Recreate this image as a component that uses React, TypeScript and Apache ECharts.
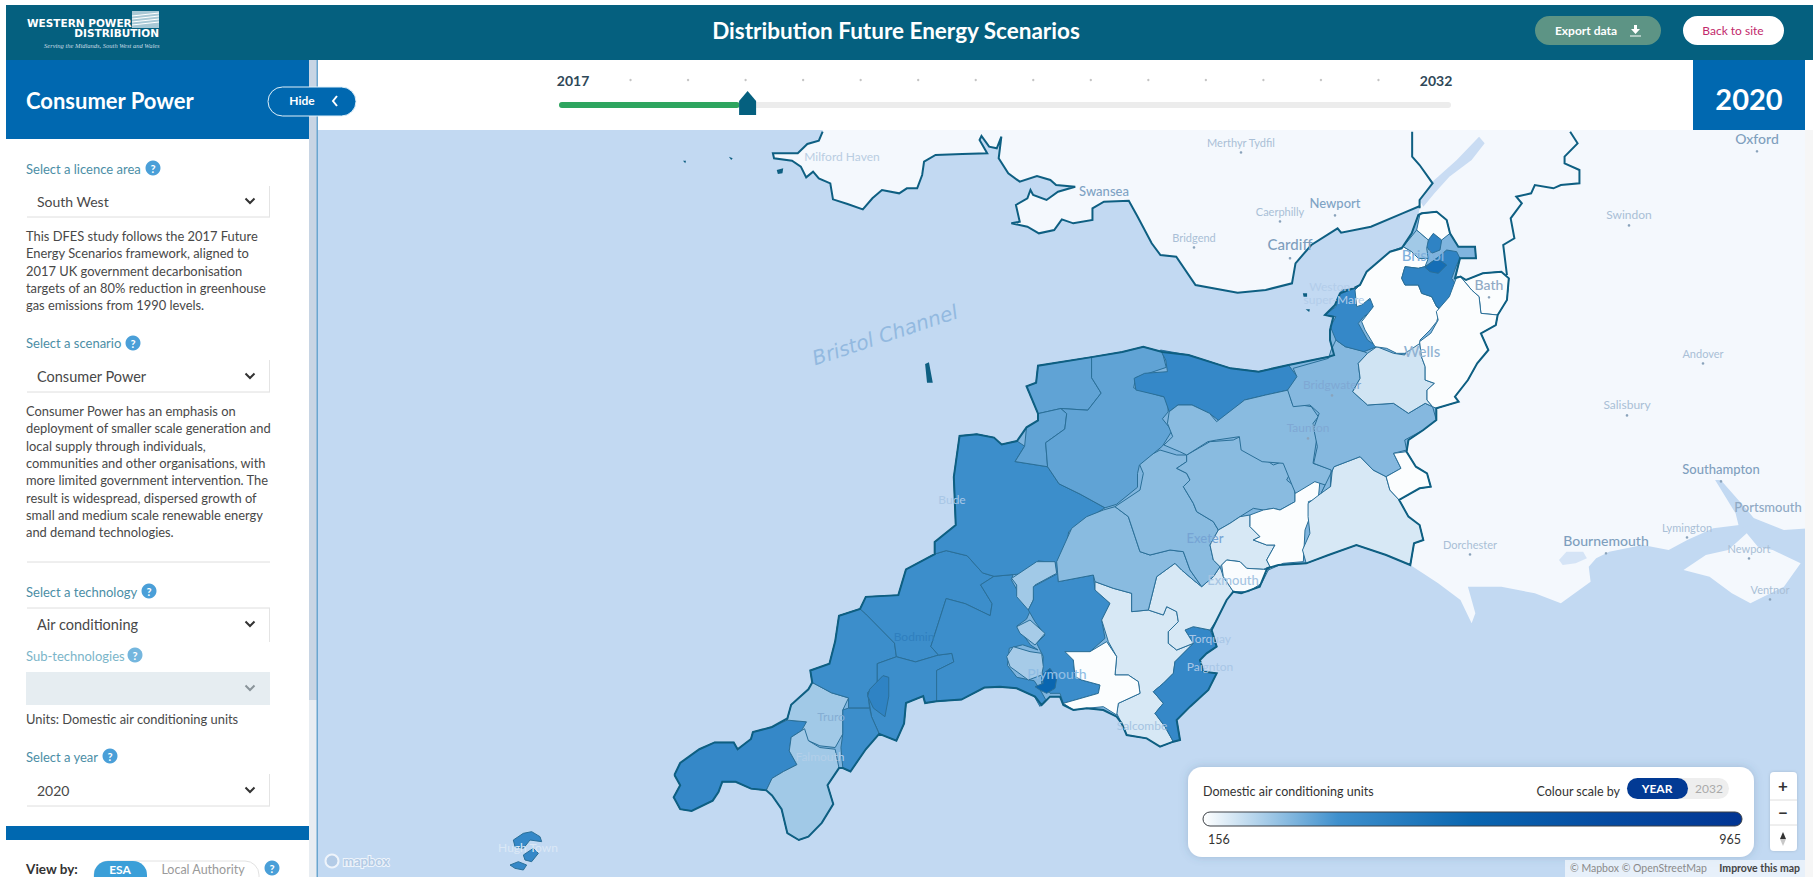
import React, { useEffect, useRef } from "react";
import * as echarts from "echarts";

// ---------- values ----------
const scaleMin = 156;
const scaleMax = 965;
const scaleColours = ["#ffffff", "#3f90cd", "#0a66b0", "#054ba2", "#023593"];
const sliderYears = [2017, 2018, 2019, 2020, 2021, 2022, 2023, 2024, 2025, 2026, 2027, 2028, 2029, 2030, 2031, 2032];
const selectedYear = 2020;

const regionNames = ["Peninsula", "Penwith", "Truro", "Falmouth", "Newquay", "Bodmin", "StAustellEast", "Roseland", "StAustellTown", "Liskeard", "Torridge", "Tavistock", "WestDevon", "TavyVale", "Saltash", "Plymouth", "DartSouth", "Ivybridge", "Torbay", "Teign", "Okehampton", "Exeter", "Tiverton", "EastDevon", "Exmouth", "Honiton", "Axminster", "Ilfracombe", "Barnstaple", "SouthMolton", "WestSomerset", "TauntonWest", "SouthSomerset", "Mendip", "Axbridge", "Bristol", "BristolCentre", "Avonmouth", "Severnside", "NorthSomerset", "Bath", "Frome", "Thornbury", "Yeovil", "Scilly"];
const regionValues = [290, 395, 255, 255, 370, 370, 370, 370, 420, 370, 370, 255, 375, 250, 250, 560, 198, 160, 395, 198, 280, 280, 280, 198, 162, 160, 198, 324, 324, 324, 395, 280, 285, 205, 395, 420, 520, 420, 255, 160, 160, 160, 160, 160, 395];

const placeNames: [string, number, number, number, string][] = [
  ["Merthyr Tydfil", 1241, 142, 11, "#a9bfd6"], ["Milford Haven", 842, 156, 12, "#b9cde2"], ["Swansea", 1104, 191, 13, "#7fa3c4"],
  ["Caerphilly", 1280, 211, 11, "#a9bfd6"], ["Newport", 1335, 203, 13, "#7fa3c4"], ["Bridgend", 1194, 237, 11, "#a9bfd6"],
  ["Cardiff", 1290, 244, 15, "#7f9fbe"], ["Weston-", 1332, 286, 12, "#b3cdea"], ["super-Mare", 1334, 299, 12, "#b3cdea"],
  ["Bridgwater", 1332, 384, 12, "#7fa8d4"], ["Taunton", 1308, 427, 12, "#7fa8d4"], ["Wells", 1422, 351, 15, "#8fb2d2"],
  ["Bath", 1489, 284, 14, "#8fa9c4"], ["Bristol", 1423, 255, 15, "#7fb0dc"], ["Exeter", 1205, 538, 13, "#76a4d4"],
  ["Exmouth", 1233, 580, 13, "#a5c4e2"], ["Torquay", 1210, 638, 12, "#a8c6e6"], ["Paignton", 1210, 666, 12, "#a8c6e6"],
  ["Salcombe", 1142, 725, 12, "#a5c4e2"], ["Plymouth", 1057, 673, 14, "#8fbde4"], ["Truro", 831, 716, 12, "#85aed4"],
  ["Falmouth", 820, 756, 12, "#b3cfe9"], ["Bodmin", 914, 636, 12, "#2f7fbe"], ["Bude", 952, 499, 12, "#a9c7e6"],
  ["Oxford", 1757, 138, 14, "#7f9fbe"], ["Swindon", 1629, 214, 12, "#a9bfd6"], ["Andover", 1703, 353, 11, "#a9bfd6"],
  ["Salisbury", 1627, 404, 12, "#a9bfd6"], ["Southampton", 1721, 469, 13, "#7f9fbe"], ["Portsmouth", 1768, 507, 13, "#8fa9c4"],
  ["Lymington", 1687, 527, 11, "#a9bfd6"], ["Newport", 1749, 548, 11, "#a9bfd6"], ["Ventnor", 1770, 589, 11, "#a9bfd6"],
  ["Bournemouth", 1606, 540, 14, "#7f9fbe"], ["Dorchester", 1470, 544, 11, "#a9bfd6"], ["Hugh Town", 528, 847, 12, "#dbe8f6"],
];
const dottedPlaces = ["Merthyr Tydfil", "Caerphilly", "Newport", "Bridgend", "Cardiff", "Bath", "Bridgwater", "Taunton", "Oxford", "Swindon", "Andover", "Salisbury", "Southampton", "Lymington", "Ventnor", "Bournemouth", "Dorchester"];

const descriptionLicence = ["This DFES study follows the 2017 Future", "Energy Scenarios framework, aligned to", "2017 UK government decarbonisation", "targets of an 80% reduction in greenhouse", "gas emissions from 1990 levels."];
const descriptionScenario = ["Consumer Power has an emphasis on", "deployment of smaller scale generation and", "local supply through individuals,", "communities and other organisations, with", "more limited government intervention. The", "result is widespread, dispersed growth of", "small and medium scale renewable energy", "and demand technologies."];

// ---------- map outlines ----------
const crop = (ox: number, oy: number, sx: number, sy: number) => (p: number[]) => {
  const out: number[][] = [];
  for (let i = 0; i < p.length; i += 2) out.push([ox + p[i] / sx, oy + p[i + 1] / sy]);
  return out;
};
const z3 = crop(640, 340, 2.613, 2.92);
const z4 = crop(950, 120, 2.851, 3);
const z7 = crop(660, 120, 2.613, 3);
const z8 = crop(1000, 430, 3, 3);
const z9 = crop(1290, 190, 3, 3);
const z10 = crop(1230, 120, 2.69, 3);
const z11 = crop(310, 790, 3, 3);

const walesCoast = [
  ...z7([425,35,415,62,385,72,360,100,295,100,298,115,345,122,368,140,382,172,400,155,415,175,445,190,452,238,490,252,530,268,555,235,580,210,625,220,645,205,672,205,685,165,690,125,720,105,790,102,855,100,835,60,840,48,860,80,880,85,892,50,885,115,910,160,940,185,985,168,1020,180,1035,195,1085,200,1040,215,1010,240,975,225,968,210,960,235,930,255,940,305,918,310,960,320,990,340,1030,330,1050,298,1080,310,1130,300,1130,265,1160,245,1225,242]),
  ...z4([535,290,575,370,600,405,645,410,700,495,820,518,900,510,975,490,985,430,1030,375,1105,325,1115,338,1200,320,1290,280,1340,258]),
];
const walesBorder = z10([510,265,510,240,545,190,510,135,490,110,490,35]);
const severnShore = z9([385,75,365,130,335,175,300,185,230,245,210,285]);
const midlandsLine = z10([745,465,735,375,765,355,755,295,785,250,770,230,810,220,820,195,870,205,890,195,940,190,940,150,900,130,900,110,935,70,915,35]);
const dorsetCoast = z10([205,1330,265,1305,340,1275,420,1305,485,1335,560,1390,620,1440,650,1510,660,1480,640,1400,730,1400,820,1420,890,1450,970,1385,965,1340,985,1315,1020,1295,1110,1275,1180,1290,1230,1260,1300,1225,1370,1215,1400,1190,1490,1230,1560,1225]);
const licenceOutline = [
  ...z3([90,1270,105,1235,155,1195,195,1175,245,1175,255,1195,290,1165,295,1145,345,1130,385,1105,395,1065,440,1020,450,1000,445,965,495,945,510,880,520,805,575,785,590,750,675,745,695,670,770,625,770,590,825,540,820,400,835,280,880,275,925,285,945,305,985,295,1010,255,1040,235,1040,215,1010,135,1035,125,1040,75,1180,50,1260,35,1315,20,1365,35]),
  ...z4([680,705,800,745,880,755,965,735,1080,710,1095,705]),
  ...z9([120,450,120,420,130,380,105,375,135,345,150,310,190,295,210,285,230,245,300,185,335,175,365,130,385,75,395,70,440,65,470,90,480,130,505,170,555,170,558,205,510,205,495,265]),
  ...z10([620,470,635,480,680,460,730,455,750,475,745,540,720,585,715,615,675,640,695,690,665,730,640,780,605,830,615,845,555,865,555,900,520,930,480,960,475,995,500,1040,530,1060,540,1100,510,1105,455,1140,480,1190,510,1215,520,1260,495,1270,485,1335,420,1305,340,1275,265,1305,205,1330,130,1335,100,1345,80,1400,30,1420]),
  ...z8([700,485,680,510,650,570,635,600,650,650,620,670,600,690,610,725,650,730,625,780,570,830,530,870,540,930,520,935,480,950,440,925,380,915,365,880,350,860,310,840,260,835,220,840,190,825,180,800,150,800,125,825,105,800,50,775,0,770]),
  ...z3([900,1015,840,1050,775,1055,745,1060,740,1040,695,1060,690,1120,670,1170,625,1150,590,1195,550,1260,530,1250,520,1250,490,1300,505,1355,475,1410,440,1450,415,1460,385,1440,370,1370,345,1330,330,1315,290,1310,250,1290,215,1290,205,1320,190,1345,135,1375,105,1370,88,1335,105,1300,90,1270]),
];

const regionShapes: Record<string, number[][][]> = {
  Peninsula: [licenceOutline],
  Penwith: [z3([90,1270,105,1235,155,1195,195,1175,245,1175,255,1195,290,1165,295,1145,345,1130,385,1110,435,1115,430,1135,395,1160,390,1200,410,1240,375,1260,345,1280,330,1315,290,1310,250,1290,215,1290,205,1320,190,1345,135,1375,105,1370,88,1335,105,1300])],
  Truro: [z3([385,1110,395,1065,440,1020,450,1000,500,1030,545,1045,530,1080,530,1150,510,1190,470,1185,440,1170,415,1155,435,1115])],
  Falmouth: [z3([395,1160,430,1135,440,1170,470,1190,510,1195,520,1250,490,1300,505,1355,475,1410,440,1450,415,1460,385,1440,370,1370,345,1330,330,1315,345,1280,375,1260,410,1240,390,1200])],
  Newquay: [z3([445,965,495,945,510,880,520,805,575,785,590,800,665,885,670,925,620,945,620,1000,595,1030,600,1075,545,1075,545,1045,500,1030,450,1000])],
  Bodmin: [z3([575,785,590,750,675,745,695,670,770,625,800,615,855,630,895,680,925,690,890,715,920,770,915,805,850,770,800,755,770,860,760,895,780,920,720,940,670,925,665,885,590,800])],
  StAustellEast: [z3([620,945,670,925,720,940,780,920,815,915,820,940,775,965,775,1055,745,1060,740,1040,695,1060,690,1120,670,1170,625,1150,605,1100,595,1030,620,1000])],
  Roseland: [z3([530,1080,545,1075,600,1075,605,1100,625,1150,590,1195,550,1260,530,1250,525,1190,530,1150])],
  StAustellTown: [z3([600,1020,635,980,650,985,650,1040,640,1100,610,1075,595,1040])],
  Liskeard: [z3([800,755,850,770,915,805,920,770,890,715,925,690,975,685,970,700,985,730,1005,770,1020,790,1010,815,985,835,1020,890,1040,905,1000,890,965,900,960,950,985,985,1030,995,1045,1020,1060,1050,1045,1070,1030,1040,980,1015,900,1015,840,1050,775,1055,775,965,820,940,815,915,780,920,760,895,770,860])],
  Torridge: [z3([770,625,770,590,825,540,820,400,835,280,880,275,925,285,945,305,985,295,1005,310,980,355,1065,370,1095,420,1150,450,1215,490,1165,525,1120,560,1115,600,1100,650,1085,680,1085,650,1040,645,1030,680,975,685,925,690,895,680,855,630,800,615])],
  Tavistock: [z8([35,445,110,395,165,395,170,430,105,465,100,510,85,540,50,500,50,465])],
  WestDevon: [z8([100,470,175,430,175,455,280,435,285,480,330,520,305,570,315,625,270,665,195,665,220,690,225,740,245,750,300,765,295,790,225,810,190,820,180,790,150,790,125,760,125,730,130,680,110,640,135,615,105,575,85,540,100,510])],
  TavyVale: [z8([50,590,90,570,135,610,105,645,60,610])],
  Saltash: [z8([20,680,40,650,90,665,125,670,130,710,125,735,85,750,30,710])],
  Plymouth: [z8([125,735,150,715,170,745,165,775,140,790,120,780,105,770,130,760])],
  DartSouth: [z8([285,455,340,475,395,490,395,545,445,540,490,555,500,530,530,545,535,575,505,605,505,640,530,660,580,640,525,695,520,730,490,760,460,785,490,820,465,850,495,890,520,935,480,950,440,925,380,915,365,880,350,850,355,820,420,790,415,755,385,735,345,735,350,680,325,635,305,570,330,520,285,480])],
  Ivybridge: [z8([195,665,270,665,320,635,350,680,345,735,385,735,415,755,420,790,355,820,350,855,310,830,260,835,220,840,190,820,225,810,295,790,300,765,245,750,225,740,220,690])],
  Torbay: [z8([555,600,580,590,630,600,650,650,620,670,600,690,610,725,650,730,625,780,570,830,530,870,540,930,520,935,495,890,465,850,490,820,460,785,490,760,520,730,525,695,580,640])],
  Teign: [z8([445,540,470,440,525,400,545,420,580,450,605,470,640,440,660,410,670,440,700,485,680,510,650,570,630,600,580,590,555,600,580,640,530,660,505,640,505,605,535,575,530,545,500,530,490,555])],
  Okehampton: [z8([170,395,215,295,260,260,310,240,345,230,385,260,405,320,420,365,450,375,510,360,550,365,570,420,605,470,580,450,545,420,525,400,470,440,445,540,395,545,395,490,340,475,285,455,280,435,175,455])],
  Exeter: [z8([345,230,420,180,430,130,415,95,480,60,530,75,560,75,560,95,530,115,560,130,570,150,550,170,580,220,590,245,640,275,655,300,630,345,640,390,660,410,640,440,605,470,570,420,550,365,510,360,450,375,420,365,405,320,385,260])],
  Tiverton: [z8([560,75,630,35,700,30,720,20,730,50,790,85,820,105,860,90,885,100,860,150,885,170,885,215,840,240,820,235,790,240,760,235,720,260,690,280,655,300,640,275,590,245,580,220,550,170,570,150,560,130,530,115,560,95])],
  EastDevon: [z8([655,300,690,280,720,260,750,255,750,290,780,320,760,330,800,345,825,345,800,390,810,410,790,418,740,415,720,395,680,390,665,405,660,410,640,390,630,345])],
  Exmouth: [z8([665,405,680,390,720,395,740,415,790,418,805,420,785,460,745,485,700,485,670,440])],
  Honiton: [z8([750,255,790,240,820,235,840,240,885,215,885,170,960,150,955,205,925,215,930,260,915,300,910,395,850,400,805,420,810,410,800,390,825,345,800,345,760,330,780,320,750,290])],
  Axminster: [z10([210,1150,245,1120,280,1040,350,1010,385,1050,420,1070,430,1110,455,1140,480,1190,510,1215,520,1260,495,1270,485,1335,420,1305,340,1275,265,1305,205,1330,195,1290,215,1240,210,1190])],
  Ilfracombe: [z3([1040,75,1180,50,1180,110,1205,155,1170,205,1100,200,1040,215,1010,135,1035,125])],
  Barnstaple: [z3([1040,235,1040,215,1100,200,1115,215,1110,260,1060,300,1065,370,980,355,1005,310,1010,255])],
  SouthMolton: [z3([1180,50,1260,35,1315,20,1365,35,1375,80,1295,110,1290,140,1380,170,1380,210,1365,230,1390,265,1365,310,1305,365,1300,390,1300,430,1245,480,1215,490,1150,450,1095,420,1065,370,1060,300,1110,260,1115,215,1100,200,1170,205,1205,155,1180,110])],
  WestSomerset: [z4([600,690,680,705,800,745,880,755,965,735,990,770,965,810,900,825,840,840,770,905,740,880,690,855,650,855,625,875,610,830,530,810,525,775,555,760,620,755,615,720])],
  TauntonWest: [z4([625,875,650,855,690,855,740,880,760,905,840,840,900,825,965,810,975,850,1030,860,1050,890,1035,910,1045,960,1035,1030,1090,1050,1085,1100,1040,1085,985,1120,975,1095,950,1030,890,1025,830,990,825,950,760,960,735,965,675,1005,655,995,610,975,635,950,620,910])],
  SouthSomerset: [z10([280,1040,350,1010,385,1050,420,1070,460,1045,440,1000,475,990,470,960,520,930,555,900,545,860,525,850,480,880,440,850,370,855,330,815,350,775,345,730,370,700,355,692,310,680,285,660,272,690,265,715,170,745,180,770,155,810,170,860,215,855,240,880,225,925,235,980,225,1030,272,1050,270,1100,245,1120])],
  Mendip: [z10([345,730,370,700,395,680,440,700,470,705,480,680,510,665,515,710,525,740,525,780,550,790,530,810,530,840,545,860,525,850,480,880,440,850,370,855,330,815,350,775])],
  Axbridge: [z10([300,510,340,505,345,540,385,540,385,570,360,590,345,610,370,660,395,680,360,695,310,680,285,660,270,620,285,590,255,585,285,560])],
  NorthSomerset: [z9([210,285,230,245,300,185,340,170,365,185,385,205,415,205,405,230,385,235,345,230,335,265,345,285,385,285,395,310,425,320,440,350,450,360,440,395,420,420,390,450,390,460,345,490,320,490,290,475,255,470,225,420,215,395,250,350,240,325,215,345,200,350,195,300])],
  Bristol: [z9([335,265,345,230,385,235,405,230,440,205,470,180,500,185,510,205,500,225,485,265,495,280,510,310,500,345,465,360,440,350,425,320,395,310,385,285,345,285])],
  BristolCentre: [z9([405,232,440,205,470,225,445,250,420,245])],
  Avonmouth: [z9([415,150,430,130,455,150,450,180,425,190,410,170])],
  Severnside: [z9([340,170,380,120,415,150,410,175,415,205,385,205,365,185])],
  Bath: [z10([620,470,635,480,680,460,730,455,750,475,745,540,720,585,675,580,670,530,650,510])],
  Frome: [z10([555,575,590,530,610,470,620,470,650,510,670,530,675,580,720,585,715,615,675,640,695,690,665,730,640,780,605,830,615,845,555,865,545,860,530,840,530,810,550,790,525,780,525,740,515,710,510,665,540,640,560,600])],
  Thornbury: [z9([390,72,440,65,470,90,480,130,455,150,430,130,415,150,380,120])],
  Yeovil: [z10([475,995,500,1040,530,1060,540,1100,510,1105,455,1140,430,1110,420,1070,460,1045,440,1000])],
  Scilly: [z11([610,150,640,130,665,125,690,140,695,155,660,150,640,175,615,170]), z11([640,195,670,175,685,190,665,215,645,210]), z11([600,225,625,215,650,225,640,240,615,235])],
};

const baseShapes: Record<string, number[][][]> = {
  Sea: [[[0, 0], [1813, 0], [1813, 877], [0, 877]]],
  Land: [[
    [822, 0], ...walesCoast, ...severnShore, ...z9([300,400]), ...z10([450,1000,200,1290]),
    ...dorsetCoast, [1813, 530], [1813, 0],
  ]],
  Wight: [z10([1220,1350,1280,1305,1340,1290,1390,1240,1420,1280,1460,1290,1535,1330,1490,1400,1400,1450,1350,1420,1290,1370])],
  SevernWater: [z10([510,240,540,190,610,120,670,50,685,70,650,120,590,170,550,220,520,260])],
  SolentWater: [z10([1305,1080,1320,1080,1395,1175,1420,1210,1370,1225,1360,1180])],
  PooleWater: [z10([885,1320,905,1295,950,1295,960,1315,930,1330,895,1335])],
  Islets: [z7([60,122,68,122,66,130]), z7([180,110,190,115,186,120]), z7([305,150,322,145,320,160,308,162]), z4([1006,520,1018,520,1018,530,1008,530]), z4([1014,568,1026,568,1024,576]), z3([745,70,755,65,765,125,750,125])],
};

const toGeo = (shapes: Record<string, number[][][]>) => ({
  type: "FeatureCollection",
  features: Object.keys(shapes).map((name) => ({
    type: "Feature",
    properties: { name },
    geometry: { type: "MultiPolygon", coordinates: shapes[name].map((ring) => [[...ring, ring[0]]]) },
  })),
});
const flat = { project: (p: number[]) => p, unproject: (p: number[]) => p };
const FULL = { left: 0, top: 0, width: 1813, height: 877, boundingCoords: [[0, 0], [1813, 877]] };

const CHROME = 100;
const FONT = "Lato, 'Open Sans', sans-serif";
const text = (x: number, y: number, s: string, font: string, fill: string, align = "left", z = CHROME + 2, extra: any = {}, rotation = 0) => ({
  type: "text", x, y, z, rotation, silent: true,
  style: { text: s, font, fill, align, verticalAlign: "middle", textAlign: align, textVerticalAlign: "middle", ...extra },
});
const rect = (x: number, y: number, w: number, h: number, fill: any, r = 0, z = CHROME, extra: any = {}) => ({
  type: "rect", z, silent: true, shape: { x, y, width: w, height: h, r }, style: { fill, ...extra },
});
const help = (x: number, y: number, c = "#4a9fd8") => [
  { type: "circle", z: CHROME + 1, silent: true, shape: { cx: x, cy: y, r: 7.5 }, style: { fill: c } },
  text(x, y, "?", `bold 11px ${FONT}`, "#ffffff", "center"),
];
const chevron = (x: number, y: number, c = "#333333") => ({
  type: "polyline", z: CHROME + 1, silent: true, shape: { points: [[x - 4.5, y - 2.5], [x, y + 2], [x + 4.5, y - 2.5]] }, style: { stroke: c, lineWidth: 2, fill: "none" },
});
const hline = (x1: number, x2: number, y: number, c = "#dedede") => ({
  type: "line", z: CHROME + 1, silent: true, shape: { x1, y1: y, x2, y2: y }, style: { stroke: c, lineWidth: 1 },
});
const vline = (x: number, y1: number, y2: number, c = "#e4e4e4") => ({
  type: "line", z: CHROME + 1, silent: true, shape: { x1: x, y1, x2: x, y2 }, style: { stroke: c, lineWidth: 1 },
});

const LABEL = "#4b8ea6";
const BODY = "#484848";
const chrome = (): any[] => {
  const trackL = 559, trackR = 1451;
  const tickX = (i: number) => 573 + (i * (1436 - 573)) / (sliderYears.length - 1);
  const sel = sliderYears.indexOf(selectedYear);
  const hx = tickX(sel) + 2;
  return [
    ...placeNames.map(([n, x, y, s, c]) => text(x, y, n, `${s >= 13 ? "500 " : ""}${s}px ${FONT}`, c, "center", 50)),
    ...placeNames.filter(([n]) => dottedPlaces.includes(n)).map(([, x, y, s]) => ({ type: "circle", z: 50, silent: true, shape: { cx: x, cy: y + s * 0.95, r: 1.3 }, style: { fill: "#8aa3bb" } })),
    text(885, 335, "Bristol Channel", `italic 20px 'DejaVu Sans'`, "#93b9e0", "center", 50, {}, 0.32),
    // outer strips
    rect(0, 0, 1813, 5, "#ffffff"), rect(0, 0, 6, 877, "#ffffff"), rect(1805, 130, 8, 747, "#f6f6f6"),
    // header
    rect(6, 5, 1807, 55, "#05607f"),
    text(27, 23, "WESTERN POWER", `900 10.5px 'DejaVu Sans'`, "#ffffff"),
    text(159, 33, "DISTRIBUTION", `900 10.5px 'DejaVu Sans'`, "#ffffff", "right"),
    text(44, 45, "Serving the Midlands, South West and Wales", `italic 6.5px 'Liberation Serif'`, "#c9dde5"),
    rect(132, 11, 27, 17, "#a9c9d6"),
    ...[14, 17, 20, 23].map((y) => ({ type: "line", z: CHROME + 1, silent: true, shape: { x1: 132, y1: y + 2, x2: 159, y2: y - 1 }, style: { stroke: "#ffffff", lineWidth: 1 } })),
    text(896, 30, "Distribution Future Energy Scenarios", `bold 22.5px ${FONT}`, "#ffffff", "center"),
    rect(1535, 16, 126, 29, "#5d9485", 14.5),
    text(1586, 30, "Export data", `bold 12px ${FONT}`, "#ffffff", "center"),
    { type: "polygon", z: CHROME + 2, silent: true, shape: { points: [[1634, 25], [1637, 25], [1637, 29], [1640, 29], [1635.5, 34], [1631, 29], [1634, 29]] }, style: { fill: "#ffffff" } },
    hline(1630, 1641, 36, "#ffffff"),
    rect(1683, 16, 101, 29, "#ffffff", 14.5),
    text(1733, 30, "Back to site", `12px ${FONT}`, "#c2286b", "center"),
    // slider strip
    rect(318, 60, 1495, 70, "#ffffff"),
    text(573, 80, String(sliderYears[0]), `bold 14px ${FONT}`, "#2f4858", "center"),
    text(1436, 80, String(sliderYears[sliderYears.length - 1]), `bold 14px ${FONT}`, "#2f4858", "center"),
    ...sliderYears.slice(1, -1).map((_, i) => ({ type: "circle", z: CHROME + 1, silent: true, shape: { cx: tickX(i + 1), cy: 80, r: 1.2 }, style: { fill: "#c4c4c4" } })),
    rect(trackL, 102, trackR - trackL, 6, "#ececec", 3, CHROME + 1),
    rect(trackL, 102, hx - 8 - trackL, 6, "#2ea55f", 3, CHROME + 1),
    { type: "polygon", z: CHROME + 2, silent: true, shape: { points: [[hx, 91], [hx - 8.5, 101], [hx - 8.5, 115], [hx + 8.5, 115], [hx + 8.5, 101]] }, style: { fill: "#05607f" } },
    rect(1693, 60, 112, 70, "#0068b0", 0, CHROME + 1),
    text(1749, 98, String(selectedYear), `bold 29px ${FONT}`, "#ffffff", "center"),
    // sidebar
    rect(6, 139, 303, 738, "#ffffff"),
    rect(309, 60, 8, 817, "#e8edf2"), rect(309, 60, 8, 640, "#c8d5e4", 0, CHROME + 1), rect(316.5, 60, 1.5, 817, "#6aa6cf", 0, CHROME + 1),
    rect(6, 60, 303, 79, "#0068b0", 0, CHROME + 1),
    text(26, 100, "Consumer Power", `bold 22px ${FONT}`, "#ffffff"),
    rect(268, 87, 88, 29, "#0068b0", 14.5, CHROME + 2, { stroke: "#dff0fa", lineWidth: 1 }),
    text(302, 100, "Hide", `bold 12px ${FONT}`, "#ffffff", "center", CHROME + 3),
    { type: "polyline", z: CHROME + 3, silent: true, shape: { points: [[337, 96], [333, 101], [337, 106]] }, style: { stroke: "#ffffff", lineWidth: 2, fill: "none" } },

    text(26, 169, "Select a licence area", `13px ${FONT}`, LABEL), ...help(153, 168),
    text(37, 201, "South West", `14px ${FONT}`, BODY), chevron(250, 201), hline(27, 270, 217), vline(269.5, 186, 217),
    ...descriptionLicence.map((l, i) => text(26, 236 + i * 17.3, l, `12.9px ${FONT}`, BODY)),
    text(26, 343, "Select a scenario", `13px ${FONT}`, LABEL), ...help(133, 343),
    text(37, 376, "Consumer Power", `14.5px ${FONT}`, BODY), chevron(250, 376), hline(27, 270, 392), vline(269.5, 360, 392),
    ...descriptionScenario.map((l, i) => text(26, 411 + i * 17.3, l, `12.9px ${FONT}`, BODY)),
    hline(27, 270, 562),
    text(26, 592, "Select a technology", `13px ${FONT}`, LABEL), ...help(149, 591),
    text(37, 624, "Air conditioning", `14.5px ${FONT}`, BODY), chevron(250, 624), hline(27, 270, 608), vline(269.5, 608, 642),
    text(26, 656, "Sub-technologies", `13px ${FONT}`, "#7bb5c9"), ...help(135, 655, "#74b6de"),
    rect(26, 672, 244, 33, "#e6edf1", 0, CHROME + 1), chevron(250, 688, "#8a949a"),
    text(26, 719, "Units: Domestic air conditioning units", `12.9px ${FONT}`, BODY),
    text(26, 757, "Select a year", `13px ${FONT}`, LABEL), ...help(110, 756),
    text(37, 790, String(selectedYear), `14px ${FONT}`, BODY), chevron(250, 790), hline(27, 270, 806), vline(269.5, 774, 806),
    rect(6, 826, 303, 14, "#0068b0", 0, CHROME + 1),
    text(26, 869, "View by:", `bold 13.5px ${FONT}`, "#333333"),
    rect(94, 861, 165, 30, "#ffffff", 14, CHROME + 1, { stroke: "#e2e2e2", lineWidth: 1 }),
    rect(94, 861, 53, 30, "#3b9fd8", 14, CHROME + 1),
    text(120, 869.5, "ESA", `bold 12px ${FONT}`, "#ffffff", "center"),
    text(203, 869.5, "Local Authority", `12.5px ${FONT}`, "#9a9a9a", "center"),
    ...help(272, 868),
    // legend panel
    rect(1188, 767, 566, 90, "#ffffff", 14, CHROME, { shadowBlur: 8, shadowColor: "rgba(60,90,130,0.25)" }),
    text(1203, 791, "Domestic air conditioning units", `12.5px ${FONT}`, "#333333"),
    text(1620, 791, "Colour scale by", `12.5px ${FONT}`, "#333333", "right"),
    rect(1627, 778, 102, 21, "#eeeeee", 10.5, CHROME + 1),
    rect(1627, 778, 61, 21, "#023a94", 10.5, CHROME + 1),
    text(1657, 788.5, "YEAR", `bold 12px ${FONT}`, "#ffffff", "center"),
    text(1709, 788.5, "2032", `12px ${FONT}`, "#aaaaaa", "center"),
    rect(1203, 812, 539, 14, new echarts.graphic.LinearGradient(0, 0, 1, 0, scaleColours.map((color, i) => ({ offset: i / (scaleColours.length - 1), color }))), 7, CHROME + 1, { stroke: "#3a3f45", lineWidth: 1 }),
    text(1208, 839, String(scaleMin), `12.5px ${FONT}`, "#333333"),
    text(1741, 839, String(scaleMax), `12.5px ${FONT}`, "#333333", "right"),
    // zoom control
    rect(1770, 772, 27, 79, "#ffffff", 4, CHROME, { shadowBlur: 3, shadowColor: "rgba(0,0,0,0.15)" }),
    hline(1770, 1797, 800), hline(1770, 1797, 825),
    text(1783, 785, "+", `bold 17px ${FONT}`, "#333333", "center"),
    text(1783, 812, "−", `bold 17px ${FONT}`, "#333333", "center"),
    { type: "polygon", z: CHROME + 1, silent: true, shape: { points: [[1783, 832], [1786, 839], [1780, 839]] }, style: { fill: "#333333" } },
    { type: "polygon", z: CHROME + 1, silent: true, shape: { points: [[1783, 846], [1786, 839], [1780, 839]] }, style: { fill: "#c8c8c8" } },
    // attribution
    rect(1565, 860, 240, 17, "rgba(255,255,255,0.6)"),
    text(1570, 868, "© Mapbox © OpenStreetMap", `10.5px ${FONT}`, "#8a8a8a"),
    text(1800, 868, "Improve this map", `bold 10.5px ${FONT}`, "#444444", "right"),
    // mapbox mark
    { type: "circle", z: CHROME + 1, silent: true, shape: { cx: 332, cy: 861, r: 6.5 }, style: { fill: "#b3cbe6", stroke: "#eef4fb", lineWidth: 2 } },
    text(343, 861, "mapbox", `bold 13px ${FONT}`, "#b3cbe6", "left", CHROME + 1, { stroke: "#eef4fb", lineWidth: 2 }),
  ];
};

export default function App() {
  const ref = useRef<HTMLDivElement>(null);
  useEffect(() => {
    document.body.style.margin = "0";
    document.body.style.overflow = "hidden";
    echarts.registerMap("base", toGeo(baseShapes) as any);
    echarts.registerMap("dfes", toGeo(regionShapes) as any);
    const chart = echarts.init(ref.current!, null, { renderer: "svg" });
    const sea = "#c2d9f2";
    const land = "#f4f8fd";
    chart.setOption({
      animation: false,
      backgroundColor: "#ffffff",
      geo: {
        map: "base", ...FULL, projection: flat, roam: false, silent: true,
        label: { show: false },
        itemStyle: { areaColor: land, borderWidth: 0 },
        emphasis: { disabled: true },
        regions: [
          { name: "Sea", itemStyle: { areaColor: sea, borderWidth: 0 } },
          { name: "SevernWater", itemStyle: { areaColor: "#c9dcf3", borderWidth: 0 } },
          { name: "SolentWater", itemStyle: { areaColor: sea, borderWidth: 0 } },
          { name: "PooleWater", itemStyle: { areaColor: "#d5e4f6", borderWidth: 0 } },
          { name: "Islets", itemStyle: { areaColor: "#0e5f82", borderWidth: 0 } },
        ],
      },
      visualMap: { show: false, type: "continuous", min: scaleMin, max: scaleMax, seriesIndex: 0, inRange: { color: scaleColours } },
      series: [
        {
          type: "map", map: "dfes", ...FULL, projection: flat, roam: false, silent: true, z: 3,
          label: { show: false },
          itemStyle: { borderColor: "#2a6f98", borderWidth: 1 },
          emphasis: { disabled: true },
          data: regionNames.map((name, i) => ({ name, value: regionValues[i] })),
        },
        {
          type: "lines", coordinateSystem: "geo", polyline: true, silent: true, z: 4,
          lineStyle: { color: "#0e5f82", width: 2, opacity: 1, curveness: 0 },
          data: [licenceOutline, walesCoast, walesBorder, midlandsLine].map((coords) => ({ coords })),
        },
      ],
      graphic: { elements: chrome() },
    });
    return () => chart.dispose();
  }, []);
  return <div ref={ref} style={{ position: "absolute", left: 0, top: 0, width: 1813, height: 877 }} />;
}
